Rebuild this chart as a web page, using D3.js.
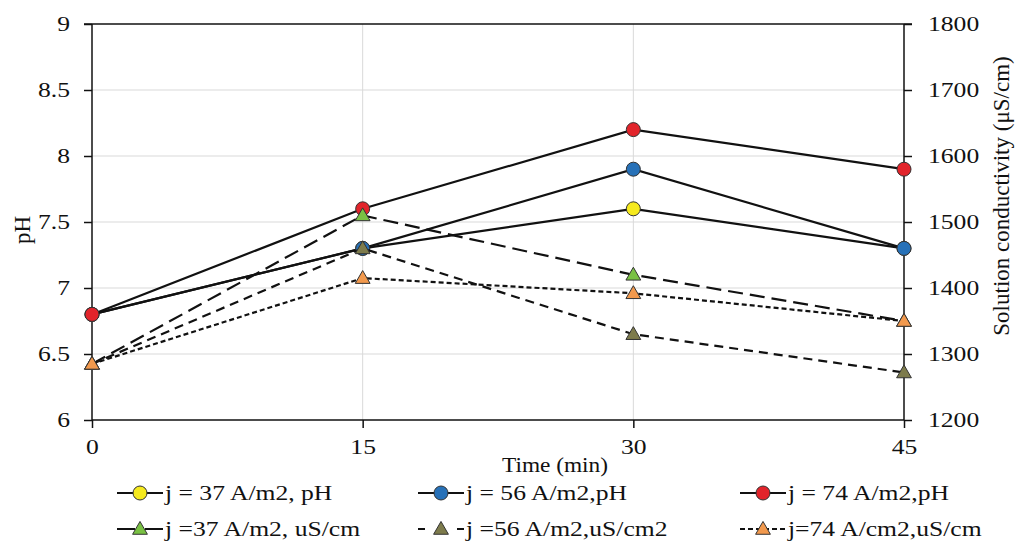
<!DOCTYPE html>
<html>
<head>
<meta charset="utf-8">
<script src="https://cdn.jsdelivr.net/npm/d3@7"></script>
<style>
  html, body { margin: 0; padding: 0; background: #fff; }
  svg { display: block; }
  text { font-family: "Liberation Serif", "Times New Roman", serif; fill: #111; }
</style>
</head>
<body>
<svg id="chart" width="1019" height="542"></svg>
<script>
// ---- data ----
const times = [0, 15, 30, 45];
const ph37 = [6.8, 7.3, 7.6, 7.3];
const ph56 = [6.8, 7.3, 7.9, 7.3];
const ph74 = [6.8, 7.6, 8.2, 7.9];
const cond37 = [1285, 1510, 1420, 1350];
const cond56 = [1285, 1460, 1330, 1272];
const cond74 = [1285, 1415, 1392, 1350];
const phTicks = [6, 6.5, 7, 7.5, 8, 8.5, 9];
const condTicks = [1200, 1300, 1400, 1500, 1600, 1700, 1800];
const timeTicks = [0, 15, 30, 45];
const seriesLabels = ["j = 37 A/m2, pH", "j = 56 A/m2,pH", "j = 74 A/m2,pH",
                      "j =37 A/m2, uS/cm", "j =56 A/m2,uS/cm2", "j=74 A/cm2,uS/cm"];

// ---- styles ----
const colors = ["#f6ea1e", "#2771b8", "#e2242b", "#79c143", "#7d7b4c", "#f2994d"];
const dashes = [null, null, null, "15,7", "9,6", "5,3"];
const legendDashes = [null, null, null, "18,10,18", "7,32,7", "5,3"];
const shapes = ["circle", "circle", "circle", "tri", "tri", "tri"];
const SX = 1.28, FS = 20;

const svg = d3.select("#chart");
const m = { l: 92, r: 904, t: 24, b: 420 };
const x = d3.scaleLinear().domain([0, 45]).range([m.l, m.r]);
const yL = d3.scaleLinear().domain([6, 9]).range([m.b, m.t]);
const yR = d3.scaleLinear().domain([1200, 1800]).range([m.b, m.t]);

function stretch(sel) {
  sel.each(function () {
    const w = this.getComputedTextLength();
    d3.select(this).attr("textLength", w * SX).attr("lengthAdjust", "spacingAndGlyphs");
  });
}

// gridlines
svg.append("g").selectAll("line").data(phTicks.slice(1, -1)).join("line")
  .attr("x1", m.l).attr("x2", m.r).attr("y1", d => yL(d)).attr("y2", d => yL(d))
  .attr("stroke", "#d9d9d9").attr("stroke-width", 1);
svg.append("g").selectAll("line").data(timeTicks.slice(1, -1)).join("line")
  .attr("y1", m.t).attr("y2", m.b).attr("x1", d => x(d)).attr("x2", d => x(d))
  .attr("stroke", "#d9d9d9").attr("stroke-width", 1);
// top border
svg.append("line").attr("x1", m.l - 8).attr("x2", m.r + 8).attr("y1", m.t).attr("y2", m.t)
  .attr("stroke", "#111").attr("stroke-width", 1.5);

// axes
const axL = d3.axisLeft(yL).tickValues(phTicks).tickSize(8).tickPadding(14).tickFormat(d3.format("~g"));
const axR = d3.axisRight(yR).tickValues(condTicks).tickSize(8).tickPadding(16).tickFormat(d3.format("d"));
const axB = d3.axisBottom(x).tickValues(timeTicks).tickSize(8).tickPadding(12).tickFormat(d3.format("d"));

function styleAxis(g) {
  g.select(".domain").attr("stroke", "#111").attr("stroke-width", 1.5);
  g.selectAll(".tick line").attr("stroke", "#111").attr("stroke-width", 1.5);
  g.selectAll(".tick text").attr("font-size", FS).attr("fill", "#111")
    .style("font-family", '"Liberation Serif", serif');
}
const gL = svg.append("g").attr("transform", `translate(${m.l},0)`).call(axL).call(styleAxis);
gL.selectAll(".domain").attr("d", `M0,${m.t}V${m.b}`);
const gR = svg.append("g").attr("transform", `translate(${m.r},0)`).call(axR).call(styleAxis);
gR.selectAll(".domain").attr("d", `M0,${m.t}V${m.b}`);
const gB = svg.append("g").attr("transform", `translate(0,${m.b})`).call(axB).call(styleAxis);
gB.selectAll(".domain").attr("d", `M${m.l},0H${m.r}`);
svg.selectAll(".tick text").call(stretch);

// axis titles
svg.append("text").attr("transform", `translate(30,230) rotate(-90)`)
  .attr("text-anchor", "middle").attr("font-size", 23).text("pH");
svg.append("text").attr("transform", `translate(1009,196) rotate(-90)`)
  .attr("text-anchor", "middle").attr("font-size", 23).text("Solution conductivity (μS/cm)");
svg.append("text").attr("x", 555).attr("y", 472).attr("text-anchor", "middle")
  .attr("font-size", FS).text("Time (min)")
  .attr("textLength", 106).attr("lengthAdjust", "spacingAndGlyphs");

// series
const allSeries = [
  { vals: ph37, y: yL }, { vals: ph56, y: yL }, { vals: ph74, y: yL },
  { vals: cond37, y: yR }, { vals: cond56, y: yR }, { vals: cond74, y: yR }
];
const tri = d3.symbol().type(d3.symbolTriangle).size(95);

function drawMarker(g, shape, color, cx, cy) {
  if (shape === "circle") {
    g.append("circle").attr("cx", cx).attr("cy", cy).attr("r", 7)
      .attr("fill", color).attr("stroke", "#333").attr("stroke-width", 1);
  } else {
    g.append("path").attr("d", tri).attr("transform", `translate(${cx},${cy + 1})`)
      .attr("fill", color).attr("stroke", "#333").attr("stroke-width", 1);
  }
}

allSeries.forEach((s, i) => {
  const g = svg.append("g");
  const line = d3.line().x((d, k) => x(times[k])).y(d => s.y(d));
  g.append("path").attr("d", line(s.vals)).attr("fill", "none")
    .attr("stroke", "#111").attr("stroke-width", 2.2)
    .attr("stroke-dasharray", dashes[i]);
  s.vals.forEach((v, k) => drawMarker(g, shapes[i], colors[i], x(times[k]), s.y(v)));
});

// legend
const legendCols = [117, 418, 740];
const legendRows = [493, 529];
seriesLabels.forEach((lab, i) => {
  const cx = legendCols[i % 3], cy = legendRows[Math.floor(i / 3)];
  const g = svg.append("g");
  g.append("line").attr("x1", cx).attr("x2", cx + 46).attr("y1", cy).attr("y2", cy)
    .attr("stroke", "#111").attr("stroke-width", 2.2).attr("stroke-dasharray", legendDashes[i]);
  drawMarker(g, shapes[i], colors[i], cx + 23, cy);
  g.append("text").attr("x", cx + 48).attr("y", cy + 7).attr("font-size", FS).text(lab).call(stretch);
});
</script>
</body>
</html>
